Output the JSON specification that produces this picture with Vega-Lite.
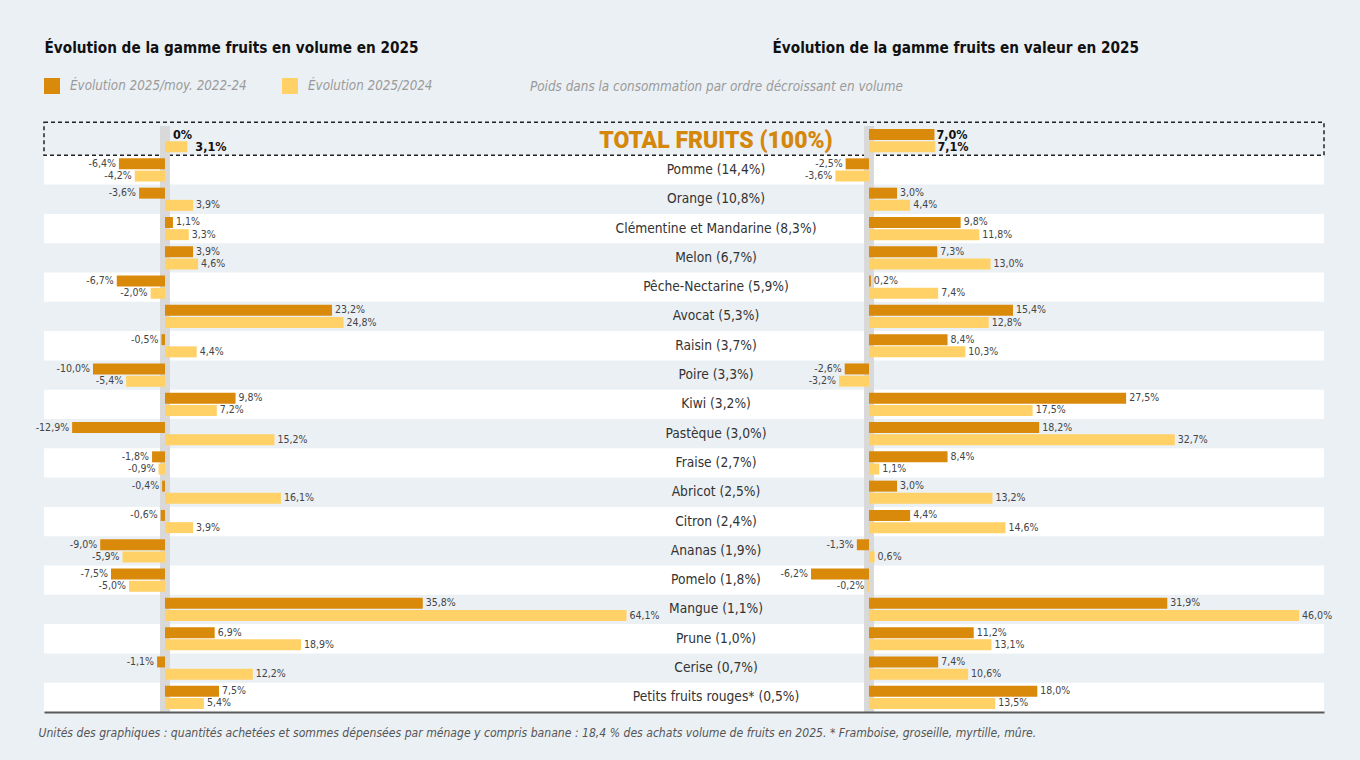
{
  "$schema": "https://vega.github.io/schema/vega-lite/v6.json",
  "width": 1280,
  "height": 586,
  "autosize": {"type": "none"},
  "padding": {"left": 44, "top": 126, "right": 36, "bottom": 48},
  "background": "#ebf0f4",
  "config": {
    "view": {"stroke": null},
    "font": "DejaVu Sans Condensed, Roboto, sans-serif",
    "locale": {"number": {"decimal": ",", "thousands": " ", "grouping": [3], "currency": ["", "%"], "minus": "-"}}
  },
  "datasets": {
    "d": [
      {"fruit": "TOTAL FRUITS (100%)", "serie": "Évolution 2025/moy. 2022-24", "volume": 0, "valeur": 7.0},
      {"fruit": "TOTAL FRUITS (100%)", "serie": "Évolution 2025/2024", "volume": 3.1, "valeur": 7.1},
      {"fruit": "Pomme (14,4%)", "serie": "Évolution 2025/moy. 2022-24", "volume": -6.4, "valeur": -2.5},
      {"fruit": "Pomme (14,4%)", "serie": "Évolution 2025/2024", "volume": -4.2, "valeur": -3.6},
      {"fruit": "Orange (10,8%)", "serie": "Évolution 2025/moy. 2022-24", "volume": -3.6, "valeur": 3.0},
      {"fruit": "Orange (10,8%)", "serie": "Évolution 2025/2024", "volume": 3.9, "valeur": 4.4},
      {"fruit": "Clémentine et Mandarine (8,3%)", "serie": "Évolution 2025/moy. 2022-24", "volume": 1.1, "valeur": 9.8},
      {"fruit": "Clémentine et Mandarine (8,3%)", "serie": "Évolution 2025/2024", "volume": 3.3, "valeur": 11.8},
      {"fruit": "Melon (6,7%)", "serie": "Évolution 2025/moy. 2022-24", "volume": 3.9, "valeur": 7.3},
      {"fruit": "Melon (6,7%)", "serie": "Évolution 2025/2024", "volume": 4.6, "valeur": 13.0},
      {"fruit": "Pêche-Nectarine (5,9%)", "serie": "Évolution 2025/moy. 2022-24", "volume": -6.7, "valeur": 0.2},
      {"fruit": "Pêche-Nectarine (5,9%)", "serie": "Évolution 2025/2024", "volume": -2.0, "valeur": 7.4},
      {"fruit": "Avocat (5,3%)", "serie": "Évolution 2025/moy. 2022-24", "volume": 23.2, "valeur": 15.4},
      {"fruit": "Avocat (5,3%)", "serie": "Évolution 2025/2024", "volume": 24.8, "valeur": 12.8},
      {"fruit": "Raisin (3,7%)", "serie": "Évolution 2025/moy. 2022-24", "volume": -0.5, "valeur": 8.4},
      {"fruit": "Raisin (3,7%)", "serie": "Évolution 2025/2024", "volume": 4.4, "valeur": 10.3},
      {"fruit": "Poire (3,3%)", "serie": "Évolution 2025/moy. 2022-24", "volume": -10.0, "valeur": -2.6},
      {"fruit": "Poire (3,3%)", "serie": "Évolution 2025/2024", "volume": -5.4, "valeur": -3.2},
      {"fruit": "Kiwi (3,2%)", "serie": "Évolution 2025/moy. 2022-24", "volume": 9.8, "valeur": 27.5},
      {"fruit": "Kiwi (3,2%)", "serie": "Évolution 2025/2024", "volume": 7.2, "valeur": 17.5},
      {"fruit": "Pastèque (3,0%)", "serie": "Évolution 2025/moy. 2022-24", "volume": -12.9, "valeur": 18.2},
      {"fruit": "Pastèque (3,0%)", "serie": "Évolution 2025/2024", "volume": 15.2, "valeur": 32.7},
      {"fruit": "Fraise (2,7%)", "serie": "Évolution 2025/moy. 2022-24", "volume": -1.8, "valeur": 8.4},
      {"fruit": "Fraise (2,7%)", "serie": "Évolution 2025/2024", "volume": -0.9, "valeur": 1.1},
      {"fruit": "Abricot (2,5%)", "serie": "Évolution 2025/moy. 2022-24", "volume": -0.4, "valeur": 3.0},
      {"fruit": "Abricot (2,5%)", "serie": "Évolution 2025/2024", "volume": 16.1, "valeur": 13.2},
      {"fruit": "Citron (2,4%)", "serie": "Évolution 2025/moy. 2022-24", "volume": -0.6, "valeur": 4.4},
      {"fruit": "Citron (2,4%)", "serie": "Évolution 2025/2024", "volume": 3.9, "valeur": 14.6},
      {"fruit": "Ananas (1,9%)", "serie": "Évolution 2025/moy. 2022-24", "volume": -9.0, "valeur": -1.3},
      {"fruit": "Ananas (1,9%)", "serie": "Évolution 2025/2024", "volume": -5.9, "valeur": 0.6},
      {"fruit": "Pomelo (1,8%)", "serie": "Évolution 2025/moy. 2022-24", "volume": -7.5, "valeur": -6.2},
      {"fruit": "Pomelo (1,8%)", "serie": "Évolution 2025/2024", "volume": -5.0, "valeur": -0.2},
      {"fruit": "Mangue (1,1%)", "serie": "Évolution 2025/moy. 2022-24", "volume": 35.8, "valeur": 31.9},
      {"fruit": "Mangue (1,1%)", "serie": "Évolution 2025/2024", "volume": 64.1, "valeur": 46.0},
      {"fruit": "Prune (1,0%)", "serie": "Évolution 2025/moy. 2022-24", "volume": 6.9, "valeur": 11.2},
      {"fruit": "Prune (1,0%)", "serie": "Évolution 2025/2024", "volume": 18.9, "valeur": 13.1},
      {"fruit": "Cerise (0,7%)", "serie": "Évolution 2025/moy. 2022-24", "volume": -1.1, "valeur": 7.4},
      {"fruit": "Cerise (0,7%)", "serie": "Évolution 2025/2024", "volume": 12.2, "valeur": 10.6},
      {"fruit": "Petits fruits rouges* (0,5%)", "serie": "Évolution 2025/moy. 2022-24", "volume": 7.5, "valeur": 18.0},
      {"fruit": "Petits fruits rouges* (0,5%)", "serie": "Évolution 2025/2024", "volume": 5.4, "valeur": 13.5}
    ]
  },
  "data": {"name": "d"},
  "resolve": {"scale": {"x": "independent"}},
  "layer": [
    {
      "transform": [{"filter": {"and": [{"field": "serie", "equal": "Évolution 2025/moy. 2022-24"}, {"field": "fruit", "oneOf": ["Pomme (14,4%)", "Clémentine et Mandarine (8,3%)", "Pêche-Nectarine (5,9%)", "Raisin (3,7%)", "Kiwi (3,2%)", "Fraise (2,7%)", "Citron (2,4%)", "Pomelo (1,8%)", "Prune (1,0%)", "Petits fruits rouges* (0,5%)"]}]}}],
      "mark": {"type": "bar", "color": "#ffffff"},
      "encoding": {
        "y": {"field": "fruit", "type": "nominal", "sort": null,
          "scale": {"domain": ["TOTAL FRUITS (100%)", "Pomme (14,4%)", "Orange (10,8%)", "Clémentine et Mandarine (8,3%)", "Melon (6,7%)", "Pêche-Nectarine (5,9%)", "Avocat (5,3%)", "Raisin (3,7%)", "Poire (3,3%)", "Kiwi (3,2%)", "Pastèque (3,0%)", "Fraise (2,7%)", "Abricot (2,5%)", "Citron (2,4%)", "Ananas (1,9%)", "Pomelo (1,8%)", "Mangue (1,1%)", "Prune (1,0%)", "Cerise (0,7%)", "Petits fruits rouges* (0,5%)"], "paddingInner": 0, "paddingOuter": 0},
          "axis": {"orient": "left", "labels": false, "ticks": false, "domain": false, "grid": false, "title": "Poids dans la consommation par ordre décroissant en volume", "titleAngle": 0, "titleX": 672, "titleY": -40, "titleAlign": "center", "titleBaseline": "middle", "titleFontSize": 13.4, "titleFontStyle": "italic", "titleFontWeight": "normal", "titleColor": "#9a9a9a"}}
      }
    },
    {
      "transform": [{"filter": {"and": [{"field": "serie", "equal": "Évolution 2025/moy. 2022-24"}, {"field": "fruit", "equal": "TOTAL FRUITS (100%)"}]}}],
      "mark": {"type": "bar", "fill": null, "fillOpacity": 0, "stroke": "#222222", "strokeWidth": 1.5, "strokeDash": [4, 3], "height": 33, "yOffset": -2},
      "encoding": {
        "y": {"field": "fruit", "type": "nominal", "sort": null,
          "scale": {"domain": ["TOTAL FRUITS (100%)", "Pomme (14,4%)", "Orange (10,8%)", "Clémentine et Mandarine (8,3%)", "Melon (6,7%)", "Pêche-Nectarine (5,9%)", "Avocat (5,3%)", "Raisin (3,7%)", "Poire (3,3%)", "Kiwi (3,2%)", "Pastèque (3,0%)", "Fraise (2,7%)", "Abricot (2,5%)", "Citron (2,4%)", "Ananas (1,9%)", "Pomelo (1,8%)", "Mangue (1,1%)", "Prune (1,0%)", "Cerise (0,7%)", "Petits fruits rouges* (0,5%)"], "paddingInner": 0, "paddingOuter": 0},
          "axis": {"orient": "left", "labels": false, "ticks": false, "domain": false, "grid": false, "title": "Poids dans la consommation par ordre décroissant en volume", "titleAngle": 0, "titleX": 672, "titleY": -40, "titleAlign": "center", "titleBaseline": "middle", "titleFontSize": 13.4, "titleFontStyle": "italic", "titleFontWeight": "normal", "titleColor": "#9a9a9a"}}
      }
    },
    {
      "encoding": {
        "x": {"field": "volume", "type": "quantitative", "scale": {"domain": [-16.806, 160.97], "nice": false, "zero": false},
          "axis": {"orient": "bottom", "labels": false, "ticks": false, "grid": false, "domain": true, "domainColor": "#5a5a5a", "domainWidth": 2, "zindex": 1, "title": "Unités des graphiques : quantités achetées et sommes dépensées par ménage y compris banane : 18,4 % des achats volume de fruits en 2025. * Framboise, groseille, myrtille, mûre.", "titleX": -6, "titleY": 20, "titleAlign": "left", "titleAnchor": "start", "titleBaseline": "middle", "titleFontSize": 12.1, "titleFontStyle": "italic", "titleFontWeight": "normal", "titleColor": "#555555"}},
        "y": {"field": "fruit", "type": "nominal", "sort": null,
          "scale": {"domain": ["TOTAL FRUITS (100%)", "Pomme (14,4%)", "Orange (10,8%)", "Clémentine et Mandarine (8,3%)", "Melon (6,7%)", "Pêche-Nectarine (5,9%)", "Avocat (5,3%)", "Raisin (3,7%)", "Poire (3,3%)", "Kiwi (3,2%)", "Pastèque (3,0%)", "Fraise (2,7%)", "Abricot (2,5%)", "Citron (2,4%)", "Ananas (1,9%)", "Pomelo (1,8%)", "Mangue (1,1%)", "Prune (1,0%)", "Cerise (0,7%)", "Petits fruits rouges* (0,5%)"], "paddingInner": 0, "paddingOuter": 0},
          "axis": {"orient": "left", "labels": false, "ticks": false, "domain": false, "grid": false, "title": "Poids dans la consommation par ordre décroissant en volume", "titleAngle": 0, "titleX": 672, "titleY": -40, "titleAlign": "center", "titleBaseline": "middle", "titleFontSize": 13.4, "titleFontStyle": "italic", "titleFontWeight": "normal", "titleColor": "#9a9a9a"}},
        "yOffset": {"field": "serie", "type": "nominal", "scale": {"domain": ["Évolution 2025/moy. 2022-24", "Évolution 2025/2024"], "paddingInner": 0.1, "paddingOuter": 0.25}}
      },
      "layer": [
        {
          "mark": {"type": "rule", "color": "#d9d9d9", "strokeWidth": 9},
          "encoding": {"x": {"datum": 0, "type": "quantitative"}, "y": null, "yOffset": null}
        },
        {
          "mark": {"type": "bar"},
          "encoding": {
            "color": {"field": "serie", "type": "nominal", "scale": {"domain": ["Évolution 2025/moy. 2022-24", "Évolution 2025/2024"], "range": ["#DA8A0B", "#FFD166"]},
              "legend": {"orient": "none", "legendX": 0, "legendY": -48, "direction": "horizontal", "title": null, "symbolType": "square", "symbolSize": 256, "symbolStrokeWidth": 0, "symbolOpacity": 1, "labelFontSize": 13.3, "labelFontStyle": "italic", "labelColor": "#9a9a9a", "labelOffset": 10, "columnPadding": 35, "labelLimit": 400}}
          }
        },
        {
          "transform": [{"filter": "datum.fruit !== 'TOTAL FRUITS (100%)' && datum.volume >= 0"}],
          "mark": {"type": "text", "align": "left", "baseline": "middle", "dx": 3, "fontSize": 10.5, "color": "#444444"},
          "encoding": {"text": {"field": "volume", "type": "quantitative", "format": "$.1f"}}
        },
        {
          "transform": [{"filter": "datum.fruit !== 'TOTAL FRUITS (100%)' && datum.volume < 0"}],
          "mark": {"type": "text", "align": "right", "baseline": "middle", "dx": -3, "fontSize": 10.5, "color": "#444444"},
          "encoding": {"text": {"field": "volume", "type": "quantitative", "format": "$.1f"}}
        },
        {
          "transform": [{"filter": {"field": "fruit", "equal": "TOTAL FRUITS (100%)"}}],
          "mark": {"type": "text", "align": "left", "baseline": "middle", "dx": 8, "fontSize": 12.5, "fontWeight": "bold", "color": "#111111"},
          "encoding": {"text": {"field": "volume", "type": "quantitative", "format": "$.2~f"}}
        }
      ]
    },
    {
      "encoding": {
        "x": {"field": "valeur", "type": "quantitative", "scale": {"domain": [-88.235, 48.663], "nice": false, "zero": false},
          "axis": {"orient": "top", "labels": false, "ticks": false, "grid": false, "domain": false, "title": "Évolution de la gamme fruits en valeur en 2025", "titleX": 728, "titleY": -74, "titleAlign": "left", "titleAnchor": "start", "titleBaseline": "alphabetic", "titleFontSize": 15.2, "titleFontWeight": "bold", "titleColor": "#111111"}},
        "y": {"field": "fruit", "type": "nominal", "sort": null,
          "scale": {"domain": ["TOTAL FRUITS (100%)", "Pomme (14,4%)", "Orange (10,8%)", "Clémentine et Mandarine (8,3%)", "Melon (6,7%)", "Pêche-Nectarine (5,9%)", "Avocat (5,3%)", "Raisin (3,7%)", "Poire (3,3%)", "Kiwi (3,2%)", "Pastèque (3,0%)", "Fraise (2,7%)", "Abricot (2,5%)", "Citron (2,4%)", "Ananas (1,9%)", "Pomelo (1,8%)", "Mangue (1,1%)", "Prune (1,0%)", "Cerise (0,7%)", "Petits fruits rouges* (0,5%)"], "paddingInner": 0, "paddingOuter": 0},
          "axis": {"orient": "left", "labels": false, "ticks": false, "domain": false, "grid": false, "title": "Poids dans la consommation par ordre décroissant en volume", "titleAngle": 0, "titleX": 672, "titleY": -40, "titleAlign": "center", "titleBaseline": "middle", "titleFontSize": 13.4, "titleFontStyle": "italic", "titleFontWeight": "normal", "titleColor": "#9a9a9a"}},
        "yOffset": {"field": "serie", "type": "nominal", "scale": {"domain": ["Évolution 2025/moy. 2022-24", "Évolution 2025/2024"], "paddingInner": 0.1, "paddingOuter": 0.25}}
      },
      "layer": [
        {
          "mark": {"type": "rule", "color": "#d9d9d9", "strokeWidth": 9},
          "encoding": {"x": {"datum": 0, "type": "quantitative"}, "y": null, "yOffset": null}
        },
        {
          "mark": {"type": "bar"},
          "encoding": {
            "color": {"field": "serie", "type": "nominal", "scale": {"domain": ["Évolution 2025/moy. 2022-24", "Évolution 2025/2024"], "range": ["#DA8A0B", "#FFD166"]},
              "legend": {"orient": "none", "legendX": 0, "legendY": -48, "direction": "horizontal", "title": null, "symbolType": "square", "symbolSize": 256, "symbolStrokeWidth": 0, "symbolOpacity": 1, "labelFontSize": 13.3, "labelFontStyle": "italic", "labelColor": "#9a9a9a", "labelOffset": 10, "columnPadding": 35, "labelLimit": 400}}
          }
        },
        {
          "transform": [{"filter": "datum.fruit !== 'TOTAL FRUITS (100%)' && datum.valeur >= 0"}],
          "mark": {"type": "text", "align": "left", "baseline": "middle", "dx": 3, "fontSize": 10.5, "color": "#444444"},
          "encoding": {"text": {"field": "valeur", "type": "quantitative", "format": "$.1f"}}
        },
        {
          "transform": [{"filter": "datum.fruit !== 'TOTAL FRUITS (100%)' && datum.valeur < 0"}],
          "mark": {"type": "text", "align": "right", "baseline": "middle", "dx": -3, "fontSize": 10.5, "color": "#444444"},
          "encoding": {"text": {"field": "valeur", "type": "quantitative", "format": "$.1f"}}
        },
        {
          "transform": [{"filter": {"field": "fruit", "equal": "TOTAL FRUITS (100%)"}}],
          "mark": {"type": "text", "align": "left", "baseline": "middle", "dx": 2, "fontSize": 12.5, "fontWeight": "bold", "color": "#111111"},
          "encoding": {"text": {"field": "valeur", "type": "quantitative", "format": "$.1f"}}
        }
      ]
    },
    {
      "transform": [{"filter": {"field": "serie", "equal": "Évolution 2025/moy. 2022-24"}}],
      "encoding": {
        "x": {"datum": 76.53, "type": "quantitative", "scale": {"domain": [-16.806, 160.97], "nice": false, "zero": false},
          "axis": {"orient": "top", "labels": false, "ticks": false, "grid": false, "domain": false, "title": "Évolution de la gamme fruits en volume en 2025", "titleX": 0, "titleY": -74, "titleAlign": "left", "titleAnchor": "start", "titleBaseline": "alphabetic", "titleFontSize": 15.2, "titleFontWeight": "bold", "titleColor": "#111111"}},
        "y": {"field": "fruit", "type": "nominal", "sort": null,
          "scale": {"domain": ["TOTAL FRUITS (100%)", "Pomme (14,4%)", "Orange (10,8%)", "Clémentine et Mandarine (8,3%)", "Melon (6,7%)", "Pêche-Nectarine (5,9%)", "Avocat (5,3%)", "Raisin (3,7%)", "Poire (3,3%)", "Kiwi (3,2%)", "Pastèque (3,0%)", "Fraise (2,7%)", "Abricot (2,5%)", "Citron (2,4%)", "Ananas (1,9%)", "Pomelo (1,8%)", "Mangue (1,1%)", "Prune (1,0%)", "Cerise (0,7%)", "Petits fruits rouges* (0,5%)"], "paddingInner": 0, "paddingOuter": 0},
          "axis": {"orient": "left", "labels": false, "ticks": false, "domain": false, "grid": false, "title": "Poids dans la consommation par ordre décroissant en volume", "titleAngle": 0, "titleX": 672, "titleY": -40, "titleAlign": "center", "titleBaseline": "middle", "titleFontSize": 13.4, "titleFontStyle": "italic", "titleFontWeight": "normal", "titleColor": "#9a9a9a"}},
        "text": {"field": "fruit", "type": "nominal"}
      },
      "layer": [
        {
          "transform": [{"filter": "datum.fruit !== 'TOTAL FRUITS (100%)'"}],
          "mark": {"type": "text", "align": "center", "baseline": "middle", "fontSize": 13.7, "color": "#333333"}
        },
        {
          "transform": [{"filter": "datum.fruit === 'TOTAL FRUITS (100%)'"}],
          "mark": {"type": "text", "align": "center", "baseline": "middle", "fontSize": 23, "fontWeight": 900, "font": "Roboto", "color": "#D4870B"}
        }
      ]
    }
  ]
}
